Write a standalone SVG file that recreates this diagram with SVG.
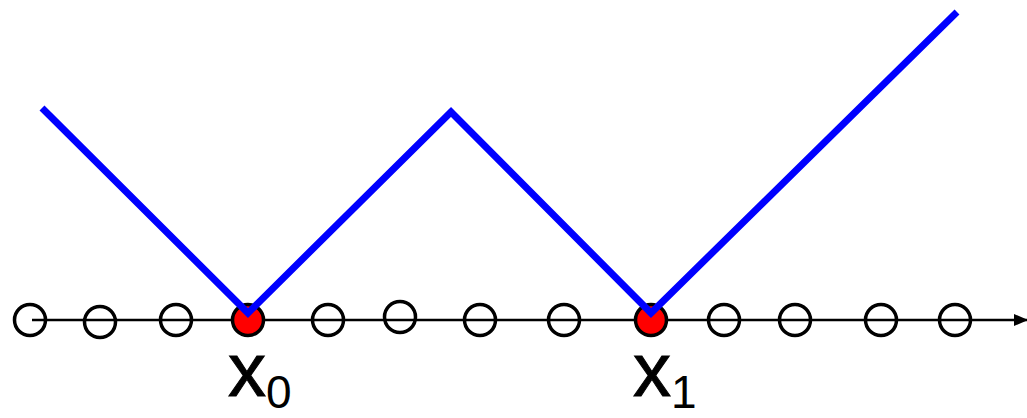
<svg xmlns="http://www.w3.org/2000/svg" width="1027" height="418" viewBox="0 0 1027 418">
<style>
.pt{fill:none;stroke:#000;stroke-width:3.5}
.sel{fill:#f00;stroke:#000;stroke-width:3.5}
.lbl{font-family:"Liberation Sans",Arial,sans-serif;fill:#000}
</style>
<defs>
<marker id="arr" markerWidth="14" markerHeight="14" refX="13" refY="7" orient="auto" markerUnits="userSpaceOnUse">
<path d="M0,1 L14,7 L0,13 Z" fill="#000"/>
</marker>
</defs>
<g id="connectors">
<line x1="32" y1="320" x2="1027" y2="320" stroke="#000" stroke-width="2.5" marker-end="url(#arr)"/>
</g>
<g id="points">
<circle class="pt" cx="30" cy="320" r="15.5"/>
<circle class="pt" cx="100" cy="322" r="15.5"/>
<circle class="pt" cx="176" cy="320" r="15.5"/>
<circle class="pt" cx="328" cy="320" r="15.5"/>
<circle class="pt" cx="400" cy="317" r="15.5"/>
<circle class="pt" cx="480" cy="320" r="15.5"/>
<circle class="pt" cx="564" cy="320" r="15.5"/>
<circle class="pt" cx="724" cy="320" r="15.5"/>
<circle class="pt" cx="795" cy="320" r="15.5"/>
<circle class="pt" cx="881" cy="320" r="15.5"/>
<circle class="pt" cx="955" cy="320" r="15.5"/>
</g>
<g id="x0node">
<circle class="sel" cx="248" cy="320" r="15.5"/>
</g>
<g id="x1node">
<circle class="sel" cx="651" cy="320" r="15.5"/>
</g>
<g id="curve">
<polyline points="42,108 248,313 451,112 651,313 957,12" fill="none" stroke="#00f" stroke-width="7"/>
</g>
<g id="labels">
<text class="lbl" x="228" y="396" font-size="76" stroke="#000" stroke-width="1">x<tspan font-size="46" dy="12" stroke-width="0">0</tspan></text>
<text class="lbl" x="633" y="396" font-size="76" stroke="#000" stroke-width="1">x<tspan font-size="46" dy="12" stroke-width="0">1</tspan></text>
</g>
</svg>
